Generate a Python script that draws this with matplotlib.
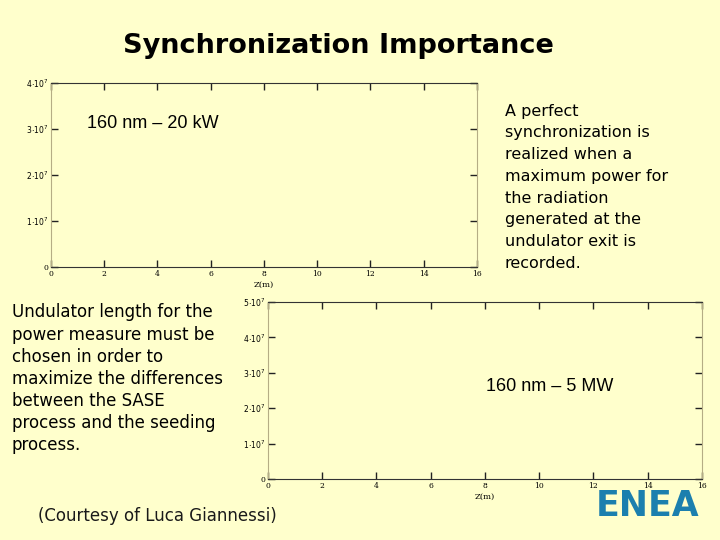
import matplotlib
matplotlib.use('Agg')
import matplotlib.pyplot as plt

# slide content
title = "Synchronization Importance"
right_note = ("A perfect\nsynchronization is\nrealized when a\nmaximum power for\n"
              "the radiation\ngenerated at the\nundulator exit is\nrecorded.")
left_note = ("Undulator length for the\npower measure must be\nchosen in order to\n"
             "maximize the differences\nbetween the SASE\nprocess and the seeding\nprocess.")
courtesy = "(Courtesy of Luca Giannessi)"

# axis data
z_ticks = [0, 2, 4, 6, 8, 10, 12, 14, 16]
top_power_ticks = [0, 1e7, 2e7, 3e7, 4e7]
bottom_power_ticks = [0, 1e7, 2e7, 3e7, 4e7, 5e7]
top_label = "160 nm \u2013 20 kW"
bottom_label = "160 nm \u2013 5 MW"

bg = '#ffffcc'


def power_fmt(v):
    if v == 0:
        return '0'
    return r'$%d\!\cdot\!10^{7}$' % round(v / 1e7)


def style_axes(ax, yticks):
    ax.set_facecolor(bg)
    ax.set_xlim(z_ticks[0], z_ticks[-1])
    ax.set_ylim(yticks[0], yticks[-1])
    ax.set_xticks(z_ticks)
    ax.set_yticks(yticks)
    ax.set_xticklabels([str(t) for t in z_ticks], fontsize=5.5, family='serif')
    ax.set_yticklabels([power_fmt(t) for t in yticks], fontsize=5.5, family='serif')
    ax.tick_params(direction='in', length=5, width=1, top=True, right=True,
                   color='#222222', pad=2)
    ax.spines['top'].set_color('#333333')
    ax.spines['bottom'].set_color('#333333')
    ax.spines['left'].set_color('#b5ad85')
    ax.spines['right'].set_color('#b5ad85')
    ax.set_xlabel('Z(m)', fontsize=6, family='serif', labelpad=2)


fig = plt.figure(figsize=(7.2, 5.4), dpi=100)
fig.patch.set_facecolor(bg)

ax1 = fig.add_axes([0.0708, 0.5056, 0.5917, 0.3407])
style_axes(ax1, top_power_ticks)
ax1.text(0.085, 0.78, top_label, transform=ax1.transAxes, fontsize=13,
         family='Liberation Sans', va='center', ha='left')

ax2 = fig.add_axes([0.3722, 0.1130, 0.6028, 0.3277])
style_axes(ax2, bottom_power_ticks)
ax2.text(0.502, 0.525, bottom_label, transform=ax2.transAxes, fontsize=13,
         family='Liberation Sans', va='center', ha='left')

fig.text(0.47, 0.915, title, fontsize=19.5, fontweight='bold', ha='center', va='center')
fig.text(0.701, 0.808, right_note, fontsize=11.5, ha='left', va='top', linespacing=1.56)
fig.text(0.016, 0.438, left_note, fontsize=12, ha='left', va='top', linespacing=1.29)
fig.text(0.053, 0.045, courtesy, fontsize=12, ha='left', va='center', color='#1a1a1a')

# ENEA logo as text
fig.text(0.899, 0.063, 'ENEA', fontsize=25, fontweight='bold', color='#1b7fae',
         ha='center', va='center', family='DejaVu Sans')

fig.savefig('out.png', dpi=100, facecolor=bg)
